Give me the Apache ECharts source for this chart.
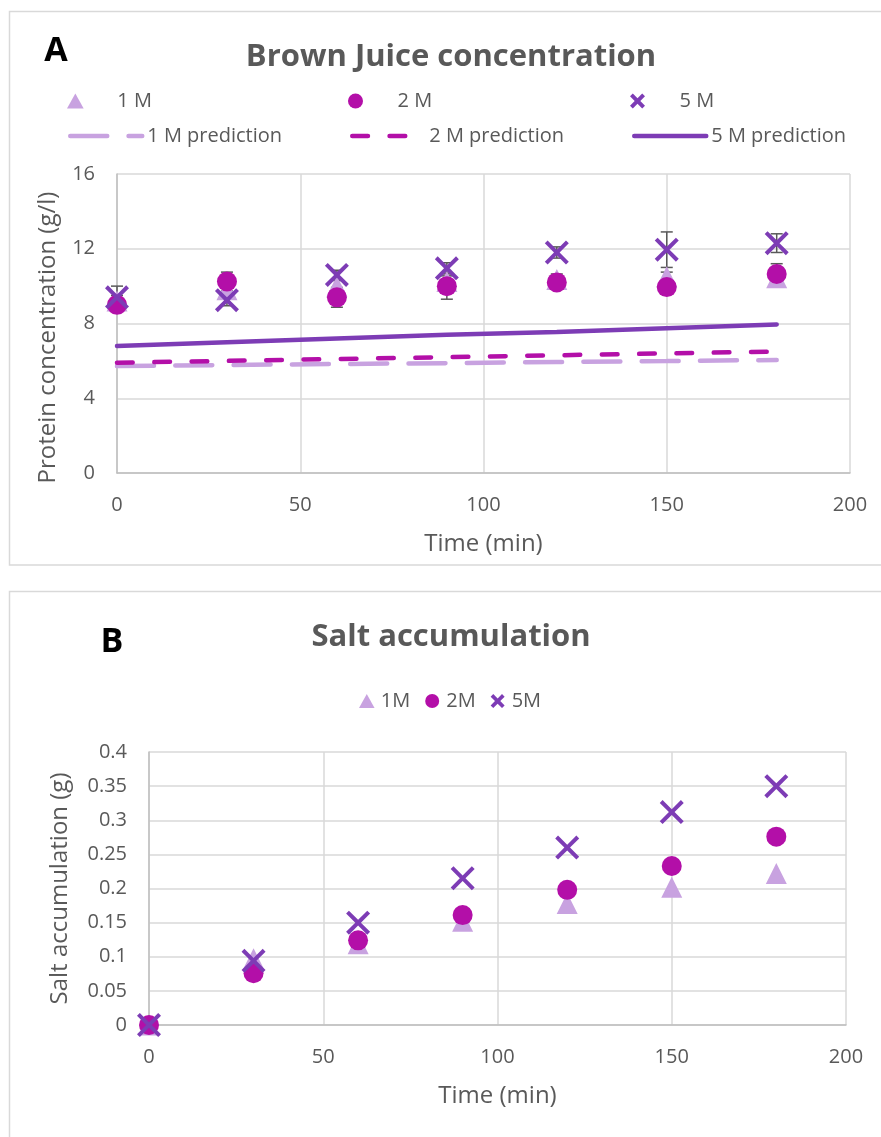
<!DOCTYPE html>
<html>
<head>
<meta charset="utf-8">
<title>Brown Juice concentration / Salt accumulation</title>
<script src="https://cdn.jsdelivr.net/npm/echarts@6.0.0/dist/echarts.min.js"></script>
<style>
html, body { margin: 0; padding: 0; background: #fff; }
#main { width: 881px; height: 1137px; }
</style>
</head>
<body>
<div id="main"></div>
<script>
// sampling times (min), shared by both panels
var time = [0, 30, 60, 90, 120, 150, 180];

// A: protein concentration (g/l), measured
var bj1M = [9.2, 9.8, 10.0, 10.25, 10.35, 10.5, 10.45];
var bj2M = [9.0, 10.25, 9.4, 10.0, 10.2, 9.95, 10.65];
var bj5M = [9.4, 9.25, 10.6, 10.95, 11.8, 11.95, 12.3];
// A: error bar half widths
var err1M = [0.3, 0.3, 0.3, 0.3, 0.3, 0.25, 0.3];
var err2M = [0.3, 0.5, 0.53, 0.7, 0.3, 0.3, 0.55];
var err5M = [0.6, 0.3, 0.25, 0.3, 0.3, 0.95, 0.5];
// A: model predictions
var pred1M = [5.72, 5.78, 5.83, 5.88, 5.94, 5.99, 6.05];
var pred2M = [5.9, 6.0, 6.1, 6.2, 6.3, 6.4, 6.5];
var pred5M = [6.8, 7.0, 7.2, 7.4, 7.55, 7.75, 7.95];

// B: salt accumulation (g)
var salt1M = [0, 0.097, 0.119, 0.152, 0.178, 0.202, 0.222];
var salt2M = [0, 0.076, 0.124, 0.161, 0.198, 0.233, 0.276];
var salt5M = [0, 0.094, 0.15, 0.215, 0.26, 0.312, 0.35];

// axis ranges [min, max, step]
var timeAxis = [0, 200, 50];
var protAxis = [0, 16, 4];
var saltAxis = [0, 0.4, 0.05];

var c1 = '#C8A2E0', c2 = '#B30FA8', c5 = '#7D3CB5';
var txt = '#595959', grid = '#D9D9D9', axisCol = '#BFBFBF';
var font = '"Open Sans", sans-serif';
var crossPath = 'path://M0,2.83L2.83,0L12,9.17L21.17,0L24,2.83L14.83,12L24,21.17L21.17,24L12,14.83L2.83,24L0,21.17L9.17,12Z';
// thicker cross for the small legend icons
var crossIcon = 'path://M0,3L3,0L8,5L13,0L16,3L11,8L16,13L13,16L8,11L3,16L0,13L5,8Z';
var triPath = 'path://M5,0L10,9L0,9Z';

function pairs(xs, ys) {
    return xs.map(function (x, i) { return [x, ys[i]]; });
}
function errRows(xs, ys, es) {
    return xs.map(function (x, i) { return [x, ys[i] - es[i], ys[i] + es[i]]; });
}

function errorBar(params, api) {
    var lo = api.coord([api.value(0), api.value(1)]);
    var hi = api.coord([api.value(0), api.value(2)]);
    var st = { stroke: '#595959', lineWidth: 1.5 };
    return {
        type: 'group',
        children: [
            { type: 'line', shape: { x1: hi[0], y1: hi[1], x2: lo[0], y2: lo[1] }, style: st },
            { type: 'line', shape: { x1: hi[0] - 6, y1: hi[1], x2: hi[0] + 6, y2: hi[1] }, style: st },
            { type: 'line', shape: { x1: lo[0] - 6, y1: lo[1], x2: lo[0] + 6, y2: lo[1] }, style: st }
        ]
    };
}

function errSeries(rows) {
    return {
        type: 'custom', xAxisIndex: 0, yAxisIndex: 0, z: 1, silent: true,
        renderItem: errorBar, encode: { x: 0, y: [1, 2] }, data: rows
    };
}

function legendItem(data, left, top, w, h, gap) {
    return {
        left: left, top: top, padding: 0, itemWidth: w, itemHeight: h, itemGap: gap || 10,
        selectedMode: false, lineStyle: { width: 4.5 },
        textStyle: { fontSize: 20, color: txt, fontFamily: font },
        data: data
    };
}

function xAx(gi) {
    return {
        gridIndex: gi, type: 'value', min: timeAxis[0], max: timeAxis[1], interval: timeAxis[2],
        name: 'Time (min)', nameLocation: 'middle', nameGap: 59,
        nameTextStyle: { fontSize: 24, color: txt, fontFamily: font },
        axisLine: { show: true, lineStyle: { color: axisCol, width: 1.5 } },
        axisTick: { show: false },
        axisLabel: { fontSize: 20, color: txt, fontFamily: font, margin: 22 },
        splitLine: { show: true, lineStyle: { color: grid, width: 1.5 } }
    };
}

function yAx(gi, range, name, gap, pad) {
    return {
        gridIndex: gi, type: 'value', min: range[0], max: range[1], interval: range[2],
        name: name, nameLocation: 'middle', nameGap: gap,
        nameTextStyle: { fontSize: 24, color: txt, fontFamily: font, padding: pad },
        axisLine: { show: true, lineStyle: { color: axisCol, width: 1.5 } },
        axisTick: { show: false },
        axisLabel: { fontSize: 20, color: txt, fontFamily: font, margin: 22 },
        splitLine: { show: true, lineStyle: { color: grid, width: 1.5 } }
    };
}

var option = {
    backgroundColor: '#fff',
    animation: false,
    textStyle: { fontFamily: font },
    title: [
        { text: 'Brown Juice concentration', left: 451, top: 42, textAlign: 'center', padding: 0,
          textStyle: { fontSize: 31, fontWeight: 'bold', color: txt, fontFamily: font } },
        { text: 'Salt accumulation', left: 451, top: 622, textAlign: 'center', padding: 0,
          textStyle: { fontSize: 31, fontWeight: 'bold', color: txt, fontFamily: font } }
    ],
    graphic: [
        { type: 'rect', shape: { x: 9.5, y: 11.5, width: 900, height: 553.5 },
          style: { fill: 'transparent', stroke: grid, lineWidth: 1.5 } },
        { type: 'rect', shape: { x: 9.5, y: 591.5, width: 900, height: 600 },
          style: { fill: 'transparent', stroke: grid, lineWidth: 1.5 } },
        { type: 'text', x: 56, y: 51, style: { text: 'A', fill: '#000', fontSize: 34, fontWeight: 'bold',
          fontFamily: font, align: 'center', verticalAlign: 'middle' } },
        { type: 'text', x: 112, y: 642, style: { text: 'B', fill: '#000', fontSize: 34, fontWeight: 'bold',
          fontFamily: font, align: 'center', verticalAlign: 'middle' } }
    ],
    legend: [
        legendItem([{ name: '1 M', icon: triPath }], 67, 91, 74, 15),
        legendItem(['2 M'], 348, 91, 74, 15),
        legendItem([{ name: '5 M', icon: crossIcon }], 630, 91, 74, 15),
        legendItem([{ name: '1 M prediction', itemStyle: { opacity: 0 } }], 68, 126, 72, 15),
        legendItem([{ name: '2 M prediction', itemStyle: { opacity: 0 } }], 350, 126, 72, 15),
        legendItem([{ name: '5 M prediction', itemStyle: { opacity: 0 } }], 632, 126, 72, 15),
        legendItem([{ name: '1M', icon: triPath }, '2M', { name: '5M', icon: crossIcon }], 359, 691, 18, 14, 15)
    ],
    grid: [
        { left: 117, top: 174, width: 733, height: 299, outerBoundsMode: 'none' },
        { left: 149, top: 752, width: 697, height: 273, outerBoundsMode: 'none' }
    ],
    xAxis: [xAx(0), xAx(1)],
    yAxis: [
        yAx(0, protAxis, 'Protein concentration (g/l)', 57, [0, 28, 0, 0]),
        yAx(1, saltAxis, 'Salt accumulation (g)', 77, 0)
    ],
    series: [
        errSeries(errRows(time, bj1M, err1M)),
        errSeries(errRows(time, bj2M, err2M)),
        errSeries(errRows(time, bj5M, err5M)),
        { name: '1 M prediction', type: 'line', xAxisIndex: 0, yAxisIndex: 0, symbol: 'none',
          data: pairs(time, pred1M), itemStyle: { color: c1 },
          lineStyle: { color: c1, width: 4.5, type: [37, 21.3], cap: 'round' } },
        { name: '2 M prediction', type: 'line', xAxisIndex: 0, yAxisIndex: 0, symbol: 'none',
          data: pairs(time, pred2M), itemStyle: { color: c2 },
          lineStyle: { color: c2, width: 4.5, type: [15.7, 21.6], cap: 'round' } },
        { name: '5 M prediction', type: 'line', xAxisIndex: 0, yAxisIndex: 0, symbol: 'none',
          data: pairs(time, pred5M), itemStyle: { color: c5 },
          lineStyle: { color: c5, width: 4.5, cap: 'round' } },
        { name: '1 M', type: 'scatter', xAxisIndex: 0, yAxisIndex: 0, symbol: 'triangle', symbolSize: 21,
          itemStyle: { color: c1, opacity: 1 }, data: pairs(time, bj1M) },
        { name: '2 M', type: 'scatter', xAxisIndex: 0, yAxisIndex: 0, symbol: 'circle', symbolSize: 20,
          itemStyle: { color: c2, opacity: 1 }, data: pairs(time, bj2M) },
        { name: '5 M', type: 'scatter', xAxisIndex: 0, yAxisIndex: 0, symbol: crossPath, symbolSize: 24,
          itemStyle: { color: c5, opacity: 1 }, data: pairs(time, bj5M) },
        { name: '1M', type: 'scatter', xAxisIndex: 1, yAxisIndex: 1, symbol: 'triangle', symbolSize: 21,
          itemStyle: { color: c1, opacity: 1 }, data: pairs(time, salt1M) },
        { name: '2M', type: 'scatter', xAxisIndex: 1, yAxisIndex: 1, symbol: 'circle', symbolSize: 20,
          itemStyle: { color: c2, opacity: 1 }, data: pairs(time, salt2M) },
        { name: '5M', type: 'scatter', xAxisIndex: 1, yAxisIndex: 1, symbol: crossPath, symbolSize: 24,
          itemStyle: { color: c5, opacity: 1 }, data: pairs(time, salt5M) }
    ]
};

var myChart = echarts.init(document.getElementById('main'));
myChart.setOption(option);
</script>
</body>
</html>
